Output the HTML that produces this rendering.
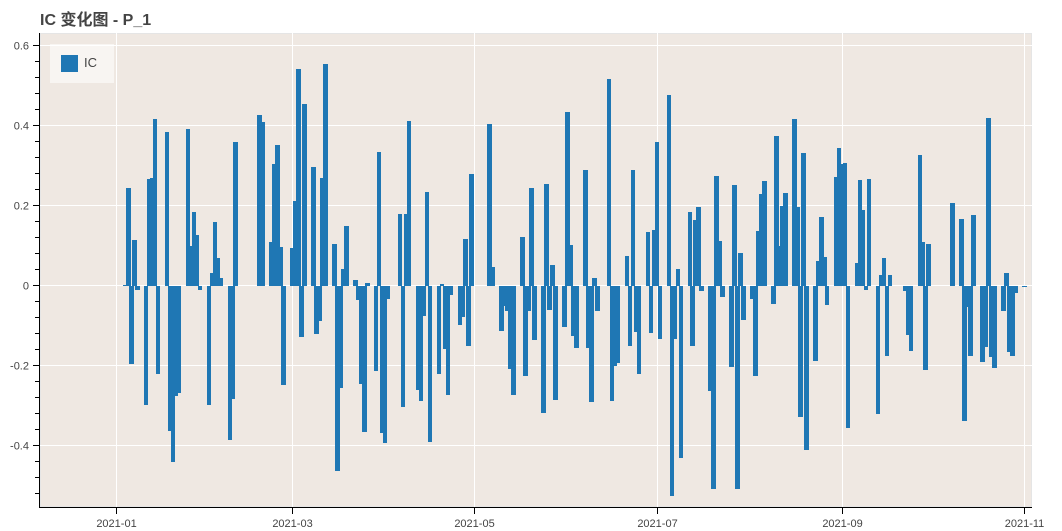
<!DOCTYPE html>
<html><head><meta charset="utf-8">
<style>
html,body{margin:0;padding:0;background:#fff;}
body{width:1062px;height:531px;overflow:hidden;position:relative;font-family:"Liberation Sans","Noto Sans CJK SC",sans-serif;}
svg{position:absolute;left:0;top:0;}
#bars{position:absolute;left:0;top:0;width:1062px;height:531px;}
#bars i{position:absolute;display:block;width:4.6px;background:#1f77b4;
left:calc(114px + var(--d) * 2.987px);
top:calc(285.75px - max(var(--v), 0) * 400.6px);
height:calc(max(var(--v), -1 * var(--v)) * 400.6px);}
#leg{position:absolute;left:0;top:0;}
</style></head><body>
<svg width="1062" height="531" viewBox="0 0 1062 531">
<rect x="40" y="33" width="992" height="474" fill="#efe8e2"/>
<rect x="40.5" y="33.5" width="991" height="473" fill="none" stroke="#e5e5e5"/>
<g stroke="#fff" stroke-width="1">
<path d="M40 45.5H1032M40 125.5H1032M40 205.5H1032M40 285.5H1032M40 365.5H1032M40 445.5H1032"/>
<path d="M116.5 33V507M292.5 33V507M474.5 33V507M657.5 33V507M842.5 33V507M1024.5 33V507"/>
</g>
<g stroke="#000" stroke-width="1" fill="none">
<path d="M39.5 33V507.5M39 507.5H1032"/>
<path d="M33 45.5H40M33 125.5H40M33 205.5H40M33 285.5H40M33 365.5H40M33 445.5H40"/>
<path d="M35 61.5H40M35 77.5H40M35 93.5H40M35 109.5H40M35 141.5H40M35 157.5H40M35 173.5H40M35 189.5H40M35 221.5H40M35 237.5H40M35 253.5H40M35 269.5H40M35 301.5H40M35 317.5H40M35 333.5H40M35 349.5H40M35 381.5H40M35 397.5H40M35 413.5H40M35 429.5H40M35 461.5H40M35 477.5H40M35 493.5H40"/>
<path d="M116.5 507V514M292.5 507V514M474.5 507V514M657.5 507V514M842.5 507V514M1024.5 507V514"/>
</g>
<g fill="#444" font-size="11" text-anchor="end" font-family="Liberation Sans, sans-serif">
<text x="29" y="49.5">0.6</text>
<text x="29" y="129.5">0.4</text>
<text x="29" y="209.5">0.2</text>
<text x="29" y="289.5">0</text>
<text x="29" y="369.5">-0.2</text>
<text x="29" y="449.5">-0.4</text>
</g>
<g fill="#444" font-size="11" text-anchor="middle" font-family="Liberation Sans, sans-serif">
<text x="116.5" y="527">2021-01</text>
<text x="292.5" y="527">2021-03</text>
<text x="474.5" y="527">2021-05</text>
<text x="657.5" y="527">2021-07</text>
<text x="842.5" y="527">2021-09</text>
<text x="1024.5" y="527">2021-11</text>
</g>
<text x="40" y="25" fill="#444" font-size="16" font-weight="bold" font-family="Liberation Sans, Noto Sans CJK SC, sans-serif">IC 变化图 - P_1</text>
</svg>
<div id="bars">
<i style="--d:3;--v:.003"></i><i style="--d:4;--v:.244"></i><i style="--d:5;--v:-.196"></i><i style="--d:6;--v:.114"></i><i style="--d:7;--v:-.01"></i>
<i style="--d:10;--v:-.298"></i><i style="--d:11;--v:.266"></i><i style="--d:12;--v:.268"></i><i style="--d:13;--v:.416"></i><i style="--d:14;--v:-.22"></i>
<i style="--d:17;--v:.384"></i><i style="--d:18;--v:-.362"></i><i style="--d:19;--v:-.441"></i><i style="--d:20;--v:-.275"></i><i style="--d:21;--v:-.268"></i>
<i style="--d:24;--v:.392"></i><i style="--d:25;--v:.098"></i><i style="--d:26;--v:.183"></i><i style="--d:27;--v:.126"></i><i style="--d:28;--v:-.01"></i>
<i style="--d:31;--v:-.298"></i><i style="--d:32;--v:.033"></i><i style="--d:33;--v:.158"></i><i style="--d:34;--v:.069"></i><i style="--d:35;--v:.019"></i>
<i style="--d:38;--v:-.384"></i><i style="--d:39;--v:-.283"></i><i style="--d:40;--v:.36"></i>
<i style="--d:48;--v:.427"></i><i style="--d:49;--v:.41"></i>
<i style="--d:52;--v:.109"></i><i style="--d:53;--v:.304"></i><i style="--d:54;--v:.351"></i><i style="--d:55;--v:.096"></i><i style="--d:56;--v:-.247"></i>
<i style="--d:59;--v:.094"></i><i style="--d:60;--v:.212"></i><i style="--d:61;--v:.541"></i><i style="--d:62;--v:-.128"></i><i style="--d:63;--v:.453"></i>
<i style="--d:66;--v:.297"></i><i style="--d:67;--v:-.121"></i><i style="--d:68;--v:-.087"></i><i style="--d:69;--v:.27"></i><i style="--d:70;--v:.553"></i>
<i style="--d:73;--v:.104"></i><i style="--d:74;--v:-.463"></i><i style="--d:75;--v:-.255"></i><i style="--d:76;--v:.042"></i><i style="--d:77;--v:.148"></i>
<i style="--d:80;--v:.015"></i><i style="--d:81;--v:-.035"></i><i style="--d:82;--v:-.245"></i><i style="--d:83;--v:-.364"></i><i style="--d:84;--v:.008"></i>
<i style="--d:87;--v:-.212"></i><i style="--d:88;--v:.334"></i><i style="--d:89;--v:-.368"></i><i style="--d:90;--v:-.393"></i><i style="--d:91;--v:-.032"></i>
<i style="--d:95;--v:.178"></i><i style="--d:96;--v:-.302"></i><i style="--d:97;--v:.179"></i><i style="--d:98;--v:.412"></i>
<i style="--d:101;--v:-.26"></i><i style="--d:102;--v:-.287"></i><i style="--d:103;--v:-.075"></i><i style="--d:104;--v:.235"></i><i style="--d:105;--v:-.389"></i>
<i style="--d:108;--v:-.221"></i><i style="--d:109;--v:.004"></i><i style="--d:110;--v:-.157"></i><i style="--d:111;--v:-.272"></i><i style="--d:112;--v:-.024"></i>
<i style="--d:115;--v:-.098"></i><i style="--d:116;--v:-.078"></i><i style="--d:117;--v:.117"></i><i style="--d:118;--v:-.151"></i><i style="--d:119;--v:.28"></i>
<i style="--d:125;--v:.404"></i><i style="--d:126;--v:.048"></i>
<i style="--d:129;--v:-.114"></i><i style="--d:130;--v:-.05"></i><i style="--d:131;--v:-.064"></i><i style="--d:132;--v:-.207"></i><i style="--d:133;--v:-.272"></i>
<i style="--d:136;--v:.121"></i><i style="--d:137;--v:-.226"></i><i style="--d:138;--v:-.064"></i><i style="--d:139;--v:.245"></i><i style="--d:140;--v:-.136"></i>
<i style="--d:143;--v:-.318"></i><i style="--d:144;--v:.254"></i><i style="--d:145;--v:-.06"></i><i style="--d:146;--v:.051"></i><i style="--d:147;--v:-.286"></i>
<i style="--d:150;--v:-.104"></i><i style="--d:151;--v:.433"></i><i style="--d:152;--v:.102"></i><i style="--d:153;--v:-.126"></i><i style="--d:154;--v:-.156"></i>
<i style="--d:157;--v:.289"></i><i style="--d:158;--v:-.156"></i><i style="--d:159;--v:-.289"></i><i style="--d:160;--v:.019"></i><i style="--d:161;--v:-.063"></i>
<i style="--d:165;--v:.516"></i><i style="--d:166;--v:-.287"></i><i style="--d:167;--v:-.2"></i><i style="--d:168;--v:-.193"></i>
<i style="--d:171;--v:.075"></i><i style="--d:172;--v:-.151"></i><i style="--d:173;--v:.29"></i><i style="--d:174;--v:-.116"></i><i style="--d:175;--v:-.22"></i>
<i style="--d:178;--v:.133"></i><i style="--d:179;--v:-.119"></i><i style="--d:180;--v:.14"></i><i style="--d:181;--v:.358"></i><i style="--d:182;--v:-.133"></i>
<i style="--d:185;--v:.477"></i><i style="--d:186;--v:-.526"></i><i style="--d:187;--v:-.132"></i><i style="--d:188;--v:.042"></i><i style="--d:189;--v:-.431"></i>
<i style="--d:192;--v:.184"></i><i style="--d:193;--v:-.151"></i><i style="--d:194;--v:.163"></i><i style="--d:195;--v:.196"></i><i style="--d:196;--v:-.012"></i>
<i style="--d:199;--v:-.262"></i><i style="--d:200;--v:-.508"></i><i style="--d:201;--v:.273"></i><i style="--d:202;--v:.111"></i><i style="--d:203;--v:-.027"></i>
<i style="--d:206;--v:-.202"></i><i style="--d:207;--v:.252"></i><i style="--d:208;--v:-.508"></i><i style="--d:209;--v:.082"></i><i style="--d:210;--v:-.085"></i>
<i style="--d:213;--v:-.032"></i><i style="--d:214;--v:-.226"></i><i style="--d:215;--v:.137"></i><i style="--d:216;--v:.229"></i><i style="--d:217;--v:.262"></i>
<i style="--d:220;--v:-.046"></i><i style="--d:221;--v:.374"></i><i style="--d:222;--v:.098"></i><i style="--d:223;--v:.2"></i><i style="--d:224;--v:.232"></i>
<i style="--d:227;--v:.416"></i><i style="--d:228;--v:.196"></i><i style="--d:229;--v:-.328"></i><i style="--d:230;--v:.331"></i><i style="--d:231;--v:-.409"></i>
<i style="--d:234;--v:-.187"></i><i style="--d:235;--v:.063"></i><i style="--d:236;--v:.171"></i><i style="--d:237;--v:.073"></i><i style="--d:238;--v:-.049"></i>
<i style="--d:241;--v:.272"></i><i style="--d:242;--v:.345"></i><i style="--d:243;--v:.304"></i><i style="--d:244;--v:.307"></i><i style="--d:245;--v:-.354"></i>
<i style="--d:248;--v:.056"></i><i style="--d:249;--v:.265"></i><i style="--d:250;--v:.188"></i><i style="--d:251;--v:-.01"></i><i style="--d:252;--v:.266"></i>
<i style="--d:255;--v:-.32"></i><i style="--d:256;--v:.027"></i><i style="--d:257;--v:.069"></i><i style="--d:258;--v:-.175"></i><i style="--d:259;--v:.027"></i>
<i style="--d:264;--v:-.014"></i><i style="--d:265;--v:-.122"></i><i style="--d:266;--v:-.163"></i>
<i style="--d:269;--v:.327"></i><i style="--d:270;--v:.109"></i><i style="--d:271;--v:-.211"></i><i style="--d:272;--v:.103"></i>
<i style="--d:280;--v:.207"></i>
<i style="--d:283;--v:.166"></i><i style="--d:284;--v:-.337"></i><i style="--d:285;--v:-.053"></i><i style="--d:286;--v:-.175"></i><i style="--d:287;--v:.176"></i>
<i style="--d:290;--v:-.191"></i><i style="--d:291;--v:-.154"></i><i style="--d:292;--v:.419"></i><i style="--d:293;--v:-.177"></i><i style="--d:294;--v:-.206"></i>
<i style="--d:297;--v:-.064"></i><i style="--d:298;--v:.032"></i><i style="--d:299;--v:-.166"></i><i style="--d:300;--v:-.176"></i><i style="--d:301;--v:-.019"></i>
<i style="--d:304;--v:-.003"></i>
</div>
<svg id="leg" width="1062" height="531" viewBox="0 0 1062 531">
<rect x="50" y="44" width="64" height="39" fill="#ffffff" fill-opacity="0.55"/>
<rect x="61" y="55" width="17" height="17" fill="#1f77b4"/>
<text x="84" y="67" fill="#444" font-size="13" font-family="Liberation Sans, sans-serif">IC</text>
</svg>
</body></html>
